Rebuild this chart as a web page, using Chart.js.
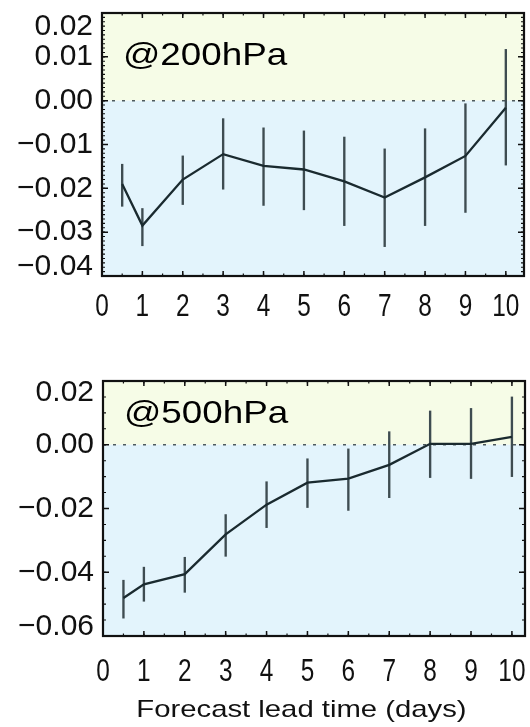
<!DOCTYPE html>
<html><head><meta charset="utf-8">
<script src="https://cdn.jsdelivr.net/npm/chart.js@4.4.1/dist/chart.umd.min.js"></script>
<style>
html,body{margin:0;padding:0;background:#fff;}
#wrap{position:relative;width:530px;height:727px;overflow:hidden;}
canvas{position:absolute;left:0;}
</style></head><body>
<div id="wrap">
<canvas id="c1" width="530" height="330" style="top:0"></canvas>
<canvas id="c2" width="530" height="377" style="top:350px"></canvas>
</div>
<script>
// ---- data ----
const leadDays = [0.5, 1, 2, 3, 4, 5, 6, 7, 8, 9, 10];
const xTickLabels = [0, 1, 2, 3, 4, 5, 6, 7, 8, 9, 10];

const mean200 = [-0.0190, -0.0285, -0.0180, -0.0122, -0.0149, -0.0157, -0.0184, -0.0221, -0.0175, -0.0126, -0.0016];
const low200  = [-0.0241, -0.0331, -0.0237, -0.0202, -0.0239, -0.0249, -0.0285, -0.0333, -0.0285, -0.0255, -0.0147];
const high200 = [-0.0145, -0.0246, -0.0126, -0.0041, -0.0062, -0.0069, -0.0083, -0.0110, -0.0064, -0.0007, 0.0117];
const yTicks200 = [-0.04, -0.03, -0.02, -0.01, 0.00, 0.01, 0.02];

const mean500 = [-0.0481, -0.0438, -0.0406, -0.0281, -0.0188, -0.0119, -0.0106, -0.0063, 0.0003, 0.0003, 0.0025];
const low500  = [-0.0544, -0.0491, -0.0463, -0.0350, -0.0260, -0.0197, -0.0206, -0.0166, -0.0103, -0.0106, -0.0100];
const high500 = [-0.0425, -0.0384, -0.0353, -0.0219, -0.0116, -0.0044, -0.0013, 0.0041, 0.0106, 0.0114, 0.0150];
const yTicks500 = [-0.06, -0.04, -0.02, 0.00, 0.02];

const panelLabels = ['@200hPa', '@500hPa'];
const xAxisTitle = 'Forecast lead time (days)';

// ---- helpers ----
const fmt = v => (v < -1e-9 ? '\u2212' : '') + Math.abs(v).toFixed(2);
const SANS = '"Liberation Sans", Arial, Helvetica, sans-serif';

// text drawn with a horizontal stretch factor (the reference mixes narrow and wide lettering)
function stretchedText(ctx, text, x, y, font, sx, align, baseline) {
  ctx.save();
  ctx.font = font;
  ctx.textAlign = align;
  ctx.textBaseline = baseline;
  ctx.translate(x, y);
  ctx.scale(sx, 1);
  ctx.fillText(text, 0, 0);
  ctx.restore();
}

const panelPlugin = {
  id: 'panel',
  beforeDatasetsDraw(chart, args, o) {
    const {ctx, chartArea: a, scales: {y}} = chart;
    const y0 = y.getPixelForValue(0);
    ctx.save();
    ctx.fillStyle = o.above;
    ctx.fillRect(a.left, a.top, a.right - a.left, y0 - a.top);
    ctx.fillStyle = o.below;
    ctx.fillRect(a.left, y0, a.right - a.left, a.bottom - y0);
    ctx.setLineDash([3, 7]);
    ctx.strokeStyle = '#4d5a5e';
    ctx.lineWidth = 1.5;
    ctx.beginPath(); ctx.moveTo(a.left, y0); ctx.lineTo(a.right, y0); ctx.stroke();
    ctx.restore();
  },
  afterDraw(chart, args, o) {
    const {ctx, chartArea: a, scales: {x, y}} = chart;
    ctx.save();
    ctx.strokeStyle = '#111';
    const marks = (scale, step, len, width) => {
      const s = Math.ceil(scale.min / step - 1e-6), e = Math.floor(scale.max / step + 1e-6);
      ctx.lineWidth = width;
      ctx.beginPath();
      for (let k = s; k <= e; k++) {
        const p = scale.getPixelForValue(k * step);
        if (scale.axis === 'x') {
          ctx.moveTo(p, a.bottom); ctx.lineTo(p, a.bottom - len);
          ctx.moveTo(p, a.top); ctx.lineTo(p, a.top + len);
        } else {
          ctx.moveTo(a.left, p); ctx.lineTo(a.left + len, p);
          ctx.moveTo(a.right, p); ctx.lineTo(a.right - len, p);
        }
      }
      ctx.stroke();
    };
    marks(x, o.xMinor, 2.5, 1.2);
    marks(x, o.xMajor, 5, 1.5);
    marks(y, o.yMinor, 3, 1.1);
    marks(y, o.yMajor, 6, 1.5);
    ctx.lineWidth = 2.2;
    ctx.strokeRect(a.left, a.top, a.right - a.left, a.bottom - a.top);
    ctx.fillStyle = '#000';
    // panel label
    stretchedText(ctx, o.label, a.left + 21, a.top + o.labelDrop, '32px ' + SANS, 1.15, 'left', 'alphabetic');
    // x tick labels (narrow lettering), placed by the x scale
    ctx.fillStyle = '#111';
    x.ticks.forEach(t => {
      stretchedText(ctx, String(t.value), x.getPixelForValue(t.value), a.bottom + o.xLabelDrop,
        '30.5px ' + SANS, 0.8, 'center', 'middle');
    });
    // axis title (wide lettering)
    if (o.title) {
      const cx = (x.getPixelForValue(xTickLabels[0]) + x.getPixelForValue(xTickLabels[xTickLabels.length - 1])) / 2 - 6;
      stretchedText(ctx, o.title, cx, a.bottom + o.titleDrop, '24px ' + SANS, 1.22, 'center', 'alphabetic');
    }
    ctx.restore();
  }
};

function makeChart(id, cfg) {
  const yMin = cfg.yTicks[0], yMax = cfg.yTicks[cfg.yTicks.length - 1];
  return new Chart(document.getElementById(id), {
    data: {
      datasets: [
        {
          type: 'line',
          data: leadDays.map((d, i) => ({x: d, y: cfg.mean[i]})),
          borderColor: '#1a2a2f',
          borderWidth: 2.3,
          pointRadius: 0,
          tension: 0,
          order: 0
        },
        {
          type: 'bar',
          data: leadDays.map((d, i) => ({x: d, y: [cfg.low[i], cfg.high[i]]})),
          backgroundColor: '#3e4c51',
          borderWidth: 0,
          barThickness: 1.7,
          order: 1
        }
      ]
    },
    options: {
      responsive: false,
      animation: false,
      devicePixelRatio: 1,
      layout: {padding: {top: cfg.padTop, right: cfg.padRight, left: 0, bottom: 0}},
      plugins: {
        legend: {display: false},
        tooltip: {enabled: false},
        panel: {
          above: '#f6fce7', below: '#e3f4fc',
          xMajor: 1, xMinor: 0.5, yMajor: cfg.yMajor, yMinor: cfg.yMinor,
          label: cfg.label, labelDrop: cfg.labelDrop,
          xLabelDrop: cfg.xLabelDrop, title: cfg.title, titleDrop: cfg.titleDrop
        }
      },
      scales: {
        x: {
          type: 'linear', min: 0, max: cfg.xMax, offset: false,
          grid: {display: false, drawTicks: false},
          border: {display: false},
          afterBuildTicks: s => { s.ticks = xTickLabels.map(v => ({value: v})); },
          afterFit: s => { s.height = cfg.xHeight; s.paddingLeft = 0; s.paddingRight = 0; },
          ticks: {display: false}
        },
        y: {
          type: 'linear', min: yMin, max: yMax,
          grid: {display: false, drawTicks: false},
          border: {display: false},
          afterBuildTicks: s => { s.ticks = cfg.yTicks.map(v => ({value: v})); },
          afterFit: s => { s.width = cfg.yWidth; s.paddingTop = 0; s.paddingBottom = 0; },
          ticks: {
            color: '#111', padding: 9, autoSkip: false,
            font: c => ({
              family: SANS, size: 30,
              lineHeight: (c.tick && c.tick.value === yMax) ? cfg.topShift : ((c.tick && c.tick.value === yMin) ? cfg.botShift : 1.2)
            }),
            callback: v => v === yMax ? ['', fmt(v)] : (v === yMin ? [fmt(v), ''] : fmt(v))
          }
        }
      }
    },
    plugins: [panelPlugin]
  });
}

makeChart('c1', {
  mean: mean200, low: low200, high: high200, yTicks: yTicks200,
  yMajor: 0.01, yMinor: 0.001, xMax: 10.45,
  padTop: 13, padRight: 6, yWidth: 102, xHeight: 54,
  label: panelLabels[0], labelDrop: 52, xLabelDrop: 32, title: null, titleDrop: 0,
  topShift: '28px', botShift: '18px'
});
makeChart('c2', {
  mean: mean500, low: low500, high: high500, yTicks: yTicks500,
  yMajor: 0.02, yMinor: 0.005, xMax: 10.32,
  padTop: 31, padRight: 5, yWidth: 103, xHeight: 91,
  label: panelLabels[1], labelDrop: 42, xLabelDrop: 37, title: xAxisTitle, titleDrop: 81,
  topShift: '24px', botShift: '18px'
});
</script>
</body></html>
